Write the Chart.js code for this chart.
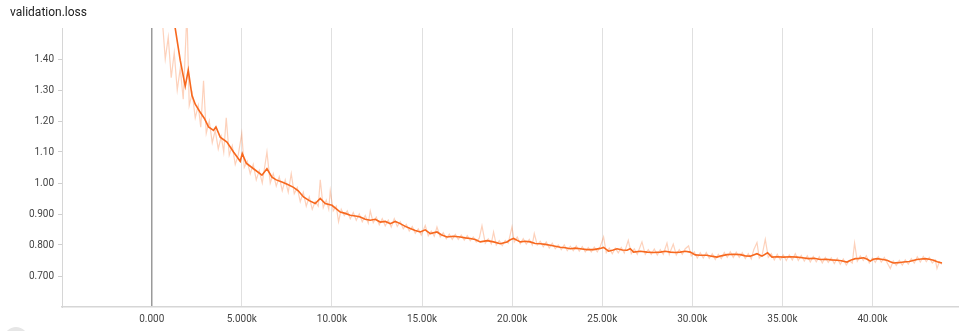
<!DOCTYPE html>
<html>
<head>
<meta charset="utf-8">
<script src="https://cdn.jsdelivr.net/npm/chart.js@4"></script>
<style>
  html, body { margin: 0; padding: 0; background: #fff; overflow: hidden; }
  #wrap { position: relative; width: 959px; height: 331px; }
  #title {
    position: absolute; left: 10px; top: 5px;
    font: 12px Roboto, sans-serif; color: #212121;
  }
  #btn {
    position: absolute; left: 4px; top: 327px; width: 24px; height: 24px;
    border-radius: 50%; background: #e6e6e6;
  }
  canvas { position: absolute; left: 0; top: 0; }
</style>
</head>
<body>
<div id="wrap">
  <canvas id="myChart" width="959" height="331"></canvas>
  <div id="title">validation.loss</div>
  <div id="btn"></div>
</div>
<script>
// tick values + labels
const stepTicks = [0, 5000, 10000, 15000, 20000, 25000, 30000, 35000, 40000];
const stepLabels = ["0.000", "5.000k", "10.00k", "15.00k", "20.00k", "25.00k", "30.00k", "35.00k", "40.00k"];
const lossTicks = [0.7, 0.8, 0.9, 1.0, 1.1, 1.2, 1.3, 1.4];
const lossLabels = ["0.700", "0.800", "0.900", "1.00", "1.10", "1.20", "1.30", "1.40"];

// smoothed curve
const smoothSteps = [
  1000, 1304, 1582, 1859, 2026, 2231, 2414, 2692, 2914, 3152, 3430, 3563, 3802, 4174, 4540, 4912,
  5023, 5245, 5650, 6116, 6394, 6671, 6910, 7226, 7520, 7870, 8131, 8425, 8741, 9074, 9352, 9629,
  10001, 10462, 10739, 11017, 11389, 11572, 11849, 12127, 12404, 12682, 12959, 13237, 13514, 13792,
  14069, 14347, 14624, 14902, 15179, 15457, 15829, 16067, 16384, 16733, 17122, 17399, 17677, 17954,
  18232, 18620, 18970, 19342, 19714, 19897, 20080, 20285, 20452, 20729, 21007, 21284, 21562, 21839,
  22117, 22394, 22672, 22949, 23227, 23504, 23782, 24154, 24520, 24892, 25075, 25353, 25613, 25819,
  26113, 26374, 26557, 26740, 27112, 27484, 27833, 28222, 28499, 28777, 29054, 29332, 29609, 29887,
  30164, 30442, 30814, 31052, 31369, 31607, 31924, 32273, 32662, 32939, 33217, 33589, 33866, 34177,
  34421, 34715, 35065, 35437, 35809, 36103, 36452, 36769, 37102, 37435, 37712, 38029, 38267, 38583,
  38822, 39044, 39266, 39505, 39710, 39877, 40043, 40249, 40487, 40804, 40987, 41170, 41431, 41725,
  42041, 42468, 42707, 42929, 43151, 43390, 43595, 43856
];
const smoothValues = [
  1.58, 1.499, 1.396, 1.312, 1.364, 1.283, 1.254, 1.228, 1.209, 1.181, 1.170, 1.181, 1.148, 1.132, 1.100, 1.070,
  1.095, 1.064, 1.046, 1.025, 1.046, 1.019, 1.010, 1.003, 0.996, 0.986, 0.975, 0.955, 0.943, 0.934, 0.950, 0.934,
  0.928, 0.906, 0.902, 0.896, 0.893, 0.890, 0.883, 0.880, 0.883, 0.874, 0.876, 0.869, 0.876, 0.869,
  0.860, 0.853, 0.847, 0.842, 0.849, 0.837, 0.842, 0.833, 0.826, 0.828, 0.826, 0.823, 0.821, 0.818,
  0.810, 0.814, 0.810, 0.804, 0.810, 0.817, 0.821, 0.815, 0.810, 0.812, 0.810, 0.805, 0.804, 0.802,
  0.799, 0.796, 0.793, 0.791, 0.788, 0.790, 0.788, 0.785, 0.785, 0.789, 0.792, 0.780, 0.784, 0.788,
  0.784, 0.783, 0.788, 0.777, 0.780, 0.777, 0.776, 0.777, 0.780, 0.777, 0.776, 0.777, 0.780, 0.777,
  0.768, 0.767, 0.767, 0.764, 0.761, 0.765, 0.769, 0.770, 0.769, 0.765, 0.764, 0.772, 0.764, 0.775,
  0.761, 0.762, 0.761, 0.762, 0.761, 0.759, 0.756, 0.757, 0.753, 0.754, 0.752, 0.751, 0.749, 0.745,
  0.752, 0.756, 0.757, 0.759, 0.754, 0.748, 0.754, 0.756, 0.754, 0.751, 0.746, 0.742, 0.743, 0.745,
  0.747, 0.753, 0.755, 0.756, 0.754, 0.751, 0.746, 0.742
];

// raw (unsmoothed) values
const rawSteps = [
  583, 750, 916, 1082, 1249, 1415, 1582, 1748, 1954, 2081, 2248, 2414, 2581, 2720, 2875, 3025,
  3191, 3358, 3524, 3691, 3857, 3996, 4135, 4301, 4468, 4634, 4801, 4995, 5134, 5300, 5467, 5633,
  5800, 5966, 6133, 6394, 6577, 6743, 6910, 7076, 7243, 7409, 7576, 7742, 7909, 8075, 8242, 8408,
  8575, 8741, 8908, 9074, 9241, 9352, 9518, 9685, 9824, 9907, 10073, 10240, 10367, 10517, 10684, 10850,
  11017, 11183, 11350, 11516, 11683, 11849, 12016, 12127, 12293, 12460, 12626, 12793, 12959, 13126, 13292, 13459,
  13625, 13792, 13958, 14125, 14291, 14458, 14624, 14791, 14957, 15179, 15346, 15512, 15679, 15829, 16012, 16179,
  16345, 16512, 16678, 16845, 17011, 17178, 17344, 17511, 17677, 17844, 18010, 18177, 18327, 18509, 18676, 18842,
  18970, 19120, 19286, 19453, 19619, 19786, 19991, 20119, 20285, 20452, 20618, 20785, 20951, 21118, 21229, 21395,
  21562, 21728, 21895, 22061, 22228, 22394, 22561, 22727, 22894, 23060, 23227, 23393, 23560, 23726, 23893, 24059,
  24226, 24392, 24559, 24725, 24892, 25075, 25225, 25392, 25558, 25725, 25891, 26058, 26224, 26446, 26613, 26779,
  26946, 27206, 27389, 27556, 27722, 27889, 28055, 28222, 28388, 28594, 28721, 28943, 29110, 29276, 29443, 29609,
  29792, 29942, 30109, 30275, 30442, 30608, 30775, 30941, 31108, 31274, 31441, 31607, 31774, 31940, 32107, 32273,
  32440, 32606, 32773, 32939, 33106, 33272, 33411, 33589, 33716, 33883, 34049, 34216, 34382, 34549, 34715, 34882,
  35048, 35215, 35381, 35548, 35714, 35881, 36047, 36214, 36380, 36547, 36713, 36880, 37046, 37213, 37379, 37546,
  37712, 37879, 38045, 38212, 38378, 38545, 38711, 38878, 39005, 39155, 39322, 39488, 39655, 39821, 39988, 40154,
  40321, 40487, 40654, 40820, 40987, 41153, 41320, 41486, 41653, 41819, 41986, 42152, 42319, 42485, 42652, 42818,
  42985, 43151, 43318, 43484, 43579, 43706, 43856
];
const rawValues = [
  1.53, 1.40, 1.47, 1.34, 1.42, 1.30, 1.37, 1.27, 1.55, 1.25, 1.29, 1.21, 1.25, 1.18, 1.33, 1.16,
  1.20, 1.13, 1.17, 1.11, 1.15, 1.10, 1.21, 1.09, 1.12, 1.06, 1.09, 1.16, 1.05, 1.07, 1.03, 1.06,
  1.01, 1.04, 1.00, 1.10, 1.00, 1.03, 0.99, 1.02, 0.975, 1.01, 0.97, 1.03, 0.965, 0.985, 0.94, 0.97,
  0.925, 0.955, 0.915, 0.94, 0.925, 1.01, 0.92, 0.945, 0.915, 0.975, 0.91, 0.925, 0.875, 0.915, 0.895, 0.91,
  0.885, 0.905, 0.88, 0.90, 0.875, 0.895, 0.87, 0.91, 0.872, 0.89, 0.865, 0.885, 0.862, 0.88, 0.858, 0.885,
  0.86, 0.875, 0.852, 0.866, 0.845, 0.86, 0.838, 0.852, 0.832, 0.863, 0.83, 0.845, 0.828, 0.858, 0.826, 0.84,
  0.82, 0.835, 0.818, 0.834, 0.818, 0.832, 0.816, 0.83, 0.814, 0.826, 0.81, 0.822, 0.862, 0.806, 0.82, 0.804,
  0.842, 0.80, 0.814, 0.798, 0.815, 0.806, 0.858, 0.81, 0.826, 0.804, 0.82, 0.803, 0.818, 0.80, 0.837, 0.80,
  0.812, 0.794, 0.81, 0.79, 0.806, 0.788, 0.80, 0.785, 0.80, 0.782, 0.796, 0.782, 0.797, 0.78, 0.795, 0.778,
  0.792, 0.778, 0.793, 0.778, 0.795, 0.826, 0.775, 0.79, 0.772, 0.79, 0.775, 0.792, 0.774, 0.815, 0.772, 0.787,
  0.77, 0.81, 0.77, 0.785, 0.77, 0.787, 0.768, 0.785, 0.77, 0.806, 0.77, 0.803, 0.768, 0.785, 0.77, 0.788,
  0.797, 0.765, 0.778, 0.758, 0.775, 0.758, 0.776, 0.757, 0.772, 0.753, 0.77, 0.756, 0.776, 0.76, 0.778, 0.76,
  0.777, 0.76, 0.775, 0.756, 0.772, 0.755, 0.785, 0.808, 0.758, 0.77, 0.818, 0.76, 0.772, 0.752, 0.77, 0.752,
  0.768, 0.75, 0.768, 0.752, 0.772, 0.75, 0.766, 0.748, 0.765, 0.745, 0.763, 0.746, 0.762, 0.742, 0.76, 0.744,
  0.758, 0.74, 0.757, 0.738, 0.755, 0.735, 0.75, 0.742, 0.806, 0.748, 0.765, 0.75, 0.765, 0.742, 0.758, 0.744,
  0.762, 0.745, 0.76, 0.742, 0.724, 0.748, 0.734, 0.75, 0.735, 0.752, 0.738, 0.756, 0.742, 0.762, 0.745, 0.763,
  0.746, 0.76, 0.742, 0.752, 0.724, 0.745, 0.738
];

const lineColor = "rgb(247, 104, 30)";
const rawColor = "rgba(247, 104, 30, 0.3)";

const toPoints = (xs, ys) => xs.map((x, i) => ({ x: x, y: ys[i] }));

const ctx = document.getElementById("myChart").getContext("2d");
const tickFont = { family: "Roboto, sans-serif", size: 10 };

new Chart(ctx, {
  type: "line",
  data: {
    datasets: [
      {
        data: toPoints(smoothSteps, smoothValues),
        borderColor: lineColor,
        borderWidth: 1.6,
        pointRadius: 0,
        tension: 0,
      },
      {
        data: toPoints(rawSteps, rawValues),
        borderColor: rawColor,
        borderWidth: 1.2,
        pointRadius: 0,
        tension: 0,
      },
    ],
  },
  options: {
    responsive: false,
    animation: false,
    devicePixelRatio: 1,
    layout: { padding: { top: 28, right: 0, left: 0, bottom: 0 } },
    plugins: { legend: { display: false }, tooltip: { enabled: false } },
    scales: {
      x: {
        type: "linear",
        min: -4980,
        max: 44800,
        afterBuildTicks: (scale) => {
          scale.ticks = stepTicks.map((v) => ({ value: v }));
        },
        afterFit: (scale) => {
          scale.height = 24;
        },
        ticks: {
          autoSkip: false,
          maxRotation: 0,
          padding: 6,
          color: "#444",
          font: tickFont,
          callback: (value) => stepLabels[stepTicks.indexOf(value)],
        },
        grid: {
          drawTicks: false,
          color: (c) => (c.tick && c.tick.value === 0 ? "#9a9a9a" : "#e0e0e0"),
          lineWidth: (c) => (c.tick && c.tick.value === 0 ? 1.5 : 1),
        },
        border: { color: "#d6d6d6", width: 1.5 },
      },
      y: {
        min: 0.6,
        max: 1.5,
        afterBuildTicks: (scale) => {
          scale.ticks = lossTicks.map((v) => ({ value: v }));
        },
        afterFit: (scale) => {
          scale.width = 62;
        },
        ticks: {
          padding: 4,
          color: "#444",
          font: tickFont,
          callback: (value) => lossLabels[lossTicks.findIndex((t) => Math.abs(t - value) < 1e-6)],
        },
        grid: {
          drawOnChartArea: false,
          drawTicks: true,
          tickLength: 4,
          color: "#cfcfcf",
        },
        border: { color: "#d6d6d6", width: 1 },
      },
    },
  },
});
</script>
</body>
</html>
